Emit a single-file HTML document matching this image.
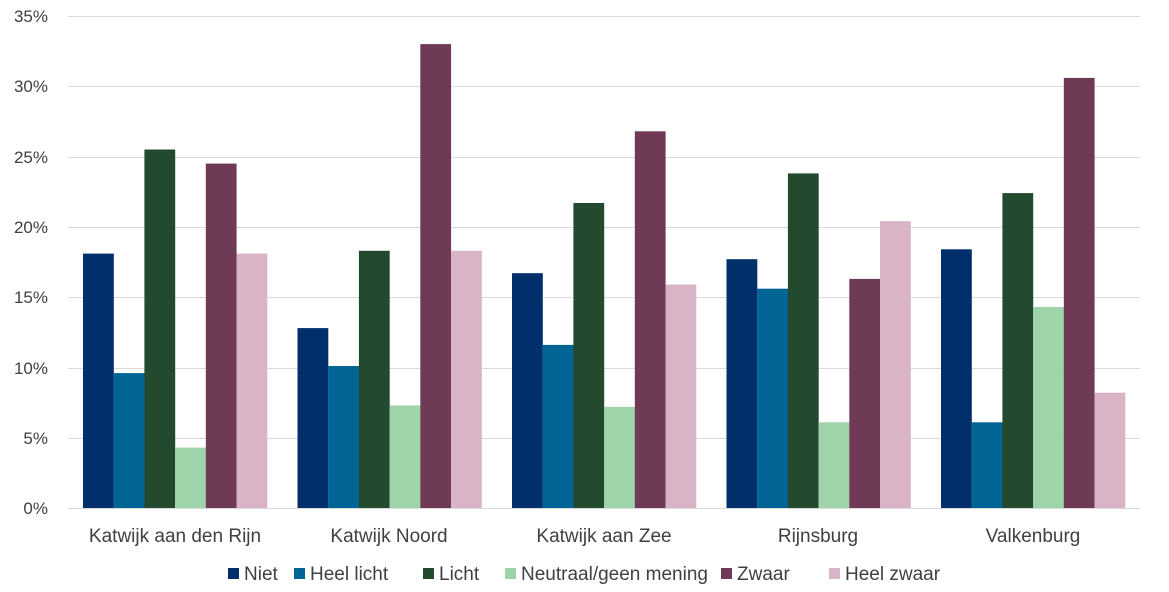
<!DOCTYPE html>
<html><head><meta charset="utf-8"><style>
html,body{margin:0;padding:0;background:#fff;}
svg text{font-family:"Liberation Sans",sans-serif;fill:#404040;}
</style></head><body>
<svg width="1169" height="587" xmlns="http://www.w3.org/2000/svg">
<g stroke="#d9d9d9" stroke-width="1">
<line x1="68" x2="1140" y1="16.5" y2="16.5"/>
<line x1="68" x2="1140" y1="86.5" y2="86.5"/>
<line x1="68" x2="1140" y1="157.5" y2="157.5"/>
<line x1="68" x2="1140" y1="227.5" y2="227.5"/>
<line x1="68" x2="1140" y1="297.5" y2="297.5"/>
<line x1="68" x2="1140" y1="368.5" y2="368.5"/>
<line x1="68" x2="1140" y1="438.5" y2="438.5"/>
<line x1="68" x2="1140" y1="508.5" y2="508.5"/>
</g>
<g font-size="17" text-anchor="end">
<text x="48" y="22">35%</text><text x="48" y="92">30%</text><text x="48" y="163">25%</text>
<text x="48" y="233">20%</text><text x="48" y="303">15%</text><text x="48" y="374">10%</text>
<text x="48" y="444">5%</text><text x="48" y="514">0%</text>
</g>
<g id="bars"></g>
<g font-size="19" text-anchor="middle">
<text x="175" y="542">Katwijk aan den Rijn</text>
<text x="389" y="542">Katwijk Noord</text>
<text x="604" y="542">Katwijk aan Zee</text>
<text x="818" y="542">Rijnsburg</text>
<text x="1033" y="542">Valkenburg</text>
</g>
<g font-size="19">
<rect x="228" y="568" width="11" height="11" fill="#002f6c"/><text x="244" y="580">Niet</text>
<rect x="294" y="568" width="11" height="11" fill="#006494"/><text x="310" y="580">Heel licht</text>
<rect x="423" y="568" width="11" height="11" fill="#234a2e"/><text x="439" y="580">Licht</text>
<rect x="505" y="568" width="11" height="11" fill="#9fd3a9"/><text x="521" y="580">Neutraal/geen mening</text>
<rect x="721" y="568" width="11" height="11" fill="#6f3a56"/><text x="737" y="580">Zwaar</text>
<rect x="829" y="568" width="11" height="11" fill="#d8b4c6"/><text x="845" y="580">Heel zwaar</text>
</g>
</svg>
<script>
var d=[[18.1,9.6,25.5,4.3,24.5,18.1],[12.8,10.1,18.3,7.3,33.0,18.3],[16.7,11.6,21.7,7.2,26.8,15.9],[17.7,15.6,23.8,6.1,16.3,20.4],[18.4,6.1,22.4,14.3,30.6,8.2]];
var c=["#002f6c","#006494","#234a2e","#9fd3a9","#6f3a56","#d8b4c6"];
var g=document.getElementById("bars"),s="";
for(var i=0;i<5;i++)for(var j=0;j<6;j++){var x=83+i*214.5+j*30.7,h=d[i][j]*492/35;
s+='<rect x="'+x.toFixed(1)+'" y="'+(508-h).toFixed(1)+'" width="30.8" height="'+h.toFixed(1)+'" fill="'+c[j]+'"/>';}
g.innerHTML=s;
</script>
</body></html>
